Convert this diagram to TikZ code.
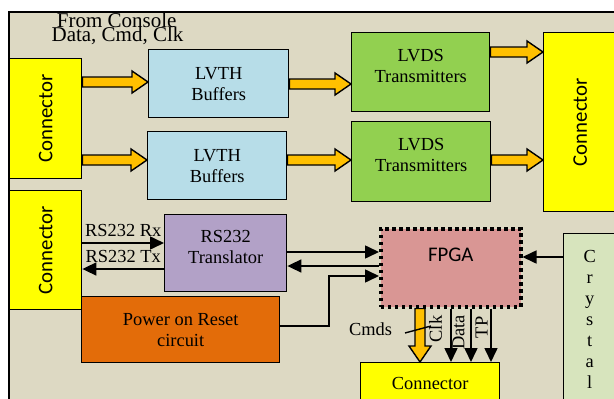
\documentclass[tikz,border=0pt]{standalone}
\usepackage{fontspec}
\usepackage{graphicx}
\setmainfont{Liberation Serif}
\newfontfamily\calib{Carlito}
\usetikzlibrary{arrows.meta,calc}
\definecolor{bgc}{HTML}{DDD9C3}
\definecolor{yel}{HTML}{FFFF00}
\definecolor{lblue}{HTML}{B7DDE8}
\definecolor{lgreen}{HTML}{92D050}
\definecolor{purp}{HTML}{B2A1C7}
\definecolor{orng}{HTML}{E36C09}
\definecolor{fpgac}{HTML}{D99694}
\definecolor{crysc}{HTML}{D7E4BD}
\definecolor{arrc}{HTML}{FFC000}
\newcommand\serifsz{\fontsize{18.4}{20.8}\selectfont}
\newcommand\sanssz{\calib\fontsize{20.8}{24}\selectfont}
\newcommand\fatR[2]{\draw[fatarrow] let \p1=#1, \p2=#2 in
  (\x1,{\y1+5pt}) -- ({\x2-16pt},{\y1+5pt}) -- ({\x2-16pt},{\y1+11pt}) -- (\x2,\y1)
  -- ({\x2-16pt},{\y1-11pt}) -- ({\x2-16pt},{\y1-5pt}) -- (\x1,{\y1-5pt}) -- cycle;}
\newcommand\fatD[2]{\draw[fatarrow] let \p1=#1, \p2=#2 in
  ({\x1-5pt},\y1) -- ({\x1-5pt},{\y2+16pt}) -- ({\x1-11pt},{\y2+16pt}) -- (\x1,\y2)
  -- ({\x1+11pt},{\y2+16pt}) -- ({\x1+5pt},{\y2+16pt}) -- ({\x1+5pt},\y1) -- cycle;}
\begin{document}
\begin{tikzpicture}[x=1pt,y=-1pt,
  box/.style={draw=black, line width=1.4pt, inner sep=0pt, anchor=north west, align=center, font=\serifsz},
  lbl/.style={inner sep=0pt, font=\serifsz},
  fatarrow/.style={fill=arrc, draw=black, line width=1.4pt, line join=miter},
  sig/.style={line width=1.6pt, -{Triangle[length=14pt,width=13pt]}}]
\useasboundingbox (0,0) rectangle (614,399);
\clip (0,0) rectangle (614,399);
\draw[fill=bgc, line width=1.4pt] (9,12) rectangle (640,420);

\node[lbl, font=\fontsize{21}{13}\selectfont, anchor=base] (t1) at (116.7,27.7) {From Console};
\node[lbl, font=\fontsize{21}{13}\selectfont, anchor=base] (t2) at (117.5,41) {Data, Cmd, Clk};

\node[box, fill=yel, minimum width=72pt, minimum height=120pt] (conL1) at (9,58) {\rotatebox{90}{\sanssz Connector}};
\node[box, fill=yel, minimum width=72pt, minimum height=119pt] (conL2) at (9,190) {\rotatebox{90}{\sanssz Connector}};
\node[box, fill=lblue, minimum width=140pt, minimum height=68pt] (lvth1) at (148,49) {LVTH\\Buffers};
\node[box, fill=lblue, minimum width=139pt, minimum height=68pt] (lvth2) at (147,131) {LVTH\\Buffers};
\node[box, fill=lgreen, minimum width=138pt, minimum height=79pt, text depth=13pt] (lvds1) at (351,32) {LVDS\\Transmitters};
\node[box, fill=lgreen, minimum width=139pt, minimum height=80pt, text depth=13pt] (lvds2) at (351,121) {LVDS\\Transmitters};
\node[box, fill=yel, minimum width=73pt, minimum height=179pt] (conR) at (543,32) {\rotatebox{90}{\sanssz Connector}};
\node[box, fill=purp, minimum width=122pt, minimum height=77pt, text depth=12pt] (trans) at (164,214) {RS232\\Translator};
\node[box, fill=orng, minimum width=198pt, minimum height=66pt] (por) at (81,296) {Power on Reset\\circuit};
\node[box, fill=fpgac, draw=black, line width=3.5pt, dash pattern=on 3.5pt off 3.5pt, minimum width=140pt, minimum height=78pt, font=\sanssz, text height=13.4pt, text depth=26pt] (fpga) at (379,227) {FPGA};
\node[box, fill=crysc, minimum width=52pt, minimum height=172pt, font=\fontsize{18.4}{21}\selectfont] (crys) at (563,233) {C\\r\\y\\s\\t\\a\\l};
\node[box, fill=yel, minimum width=139pt, minimum height=42pt] (conB) at (360,362) {Connector};

\fatR{(conL1.east |- 0,82)}{(lvth1.west |- 0,82)}
\fatR{(conL1.east |- 0,160)}{(lvth2.west |- 0,160)}
\fatR{(lvth1.east |- 0,84)}{(lvds1.west |- 0,84)}
\fatR{(lvth2.east |- 0,160)}{(lvds2.west |- 0,160)}
\fatR{(lvds1.east |- 0,52)}{(conR.west |- 0,52)}
\fatR{(lvds2.east |- 0,160)}{(conR.west |- 0,160)}
\fatD{(fpga.south -| 420,0)}{(conB.north -| 420,0)}

\draw[sig] (conL2.east |- 0,243) -- node[lbl, above=6pt] (rxl) {RS232 Rx} (trans.west |- 0,243);
\draw[sig] (trans.west |- 0,269) -- node[lbl, above=6pt] (txl) {RS232 Tx} (conL2.east |- 0,269);
\draw[sig] (trans.east |- 0,252) -- (fpga.west |- 0,252);
\draw[sig] (fpga.west |- 0,266) -- (trans.east |- 0,266);
\coordinate (pb) at (329,276);
\draw[sig] (por.east |- 0,326) -| (pb) -- (fpga.west |- pb);
\draw[sig] (crys.west |- 0,257) -- (fpga.east |- 0,257);
\draw[sig] (fpga.south -| 451,0) -- (conB.north -| 451,0);
\draw[sig] (fpga.south -| 471,0) -- (conB.north -| 471,0);
\draw[sig] (fpga.south -| 491,0) -- (conB.north -| 491,0);

\node[lbl, anchor=base] (cmds) at (370.5,335) {Cmds};
\draw[line width=1.4pt] (405,333) -- (431,326);
\node[lbl, rotate=90] (clk) at (435.5,329) {Clk};
\node[lbl, rotate=90] (data) at (458.5,332.5) {Data};
\node[lbl, rotate=90] (tp) at (481.7,327.5) {TP};
\end{tikzpicture}
\end{document}
